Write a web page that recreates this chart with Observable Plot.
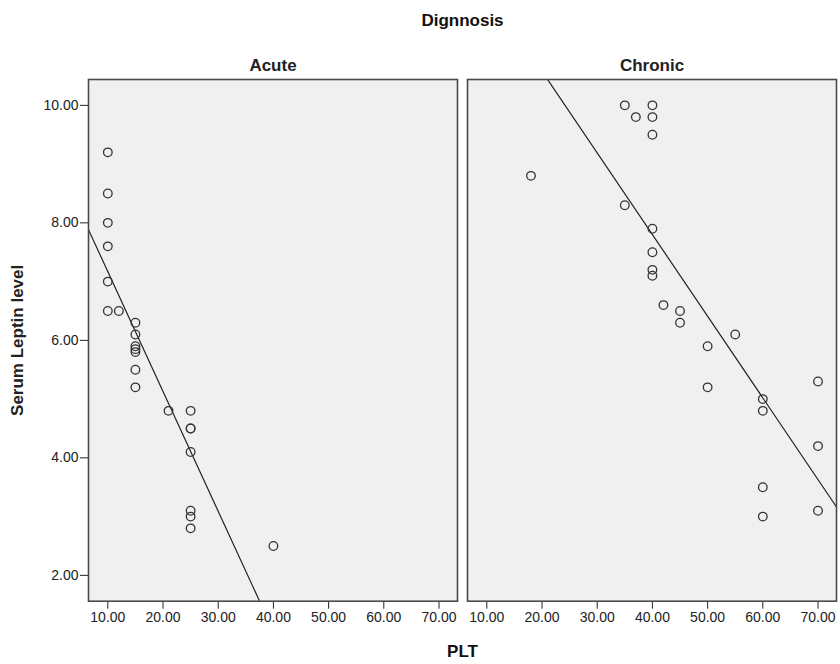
<!DOCTYPE html>
<html>
<head>
<meta charset="utf-8">
<script src="https://cdn.jsdelivr.net/npm/d3@7"></script>
<script src="https://cdn.jsdelivr.net/npm/@observablehq/plot@0.6"></script>
<style>
  body { margin: 0; background: white; font-family: "Liberation Sans", Arial, sans-serif; }
  #wrap { width: 840px; height: 664px; position: relative; }
  .ttl { box-sizing: border-box; width: 840px; padding-left: 87.5px; padding-right: 2.5px; text-align: center; font-weight: bold; font-size: 17px; color: #111; }
  #title { height: 40px; line-height: 42px; }
  #xlabel { height: 24px; line-height: 24px; }
  svg g[aria-label="y-axis label"] text, svg g[aria-label="y-axis label"] { font-weight: bold; font-size: 17px; }
  svg g[aria-label="fx-axis tick label"] text, svg g[aria-label="fx-axis tick label"] { font-weight: bold; font-size: 17px; }
</style>
</head>
<body>
<div id="wrap">
  <div id="title" class="ttl">Dignnosis</div>
  <div id="chart"></div>
  <div id="xlabel" class="ttl">PLT</div>
</div>
<script>
const panels = ["Acute", "Chronic"];

const acutePLT    = [10, 10, 10, 10, 10, 10, 12, 15, 15, 15, 15, 15, 15, 15, 21, 25, 25, 25, 25, 25, 25, 25, 40];
const acuteLeptin = [9.2, 8.5, 8.0, 7.6, 7.0, 6.5, 6.5, 6.3, 6.1, 5.9, 5.85, 5.8, 5.5, 5.2, 4.8, 4.8, 4.5, 4.5, 4.1, 3.1, 3.0, 2.8, 2.5];

const chronicPLT    = [18, 35, 37, 40, 40, 40, 35, 40, 40, 40, 40, 42, 45, 45, 55, 50, 50, 60, 60, 70, 70, 60, 60, 70];
const chronicLeptin = [8.8, 10.0, 9.8, 10.0, 9.8, 9.5, 8.3, 7.9, 7.5, 7.2, 7.1, 6.6, 6.5, 6.3, 6.1, 5.9, 5.2, 5.0, 4.8, 5.3, 4.2, 3.5, 3.0, 3.1];

// Fit line per panel: Leptin = intercept + slope * PLT
const fitIntercept = [9.21, 13.36];
const fitSlope     = [-0.204, -0.139];

const xTicks = [10, 20, 30, 40, 50, 60, 70];
const yTicks = [2, 4, 6, 8, 10];

const xDomain = [6.5, 73.35];
const yDomain = [1.56, 10.44];

const points = [
  ...acutePLT.map((x, i) => ({panel: panels[0], plt: x, leptin: acuteLeptin[i]})),
  ...chronicPLT.map((x, i) => ({panel: panels[1], plt: x, leptin: chronicLeptin[i]}))
];

const fit = panels.flatMap((p, i) => xDomain.map(x => ({panel: p, plt: x, leptin: fitIntercept[i] + fitSlope[i] * x})));

const fmt = d3.format(".2f");

const chart = Plot.plot({
  width: 840,
  height: 600,
  marginTop: 39,
  marginBottom: 39.3,
  marginLeft: 87.5,
  marginRight: 2.5,
  style: {fontFamily: "'Liberation Sans', Arial, sans-serif", fontSize: "14px", background: "white", color: "#222"},
  fx: {domain: panels, paddingInner: 0.0263, paddingOuter: 0, label: null, axis: "top", tickSize: 0, tickPadding: 9},
  x: {domain: xDomain, ticks: xTicks, tickFormat: fmt, tickSize: 8, tickPadding: 3, label: null},
  y: {domain: yDomain, ticks: yTicks, tickFormat: fmt, tickSize: 8, tickPadding: 2,
      label: "Serum Leptin level", labelAnchor: "center", labelOffset: 78, labelArrow: "none"},
  marks: [
    Plot.frame({fill: "#f0f0f0"}),
    Plot.line(fit, {x: "plt", y: "leptin", fx: "panel", z: "panel", stroke: "#222", strokeWidth: 1.2, clip: true}),
    Plot.dot(points, {x: "plt", y: "leptin", fx: "panel", r: 4.3, stroke: "#333", strokeWidth: 1.3, fill: "none"}),
    Plot.frame({stroke: "#4a4a4a", strokeWidth: 1.6})
  ]
});
document.getElementById("chart").appendChild(chart);
</script>
</body>
</html>
